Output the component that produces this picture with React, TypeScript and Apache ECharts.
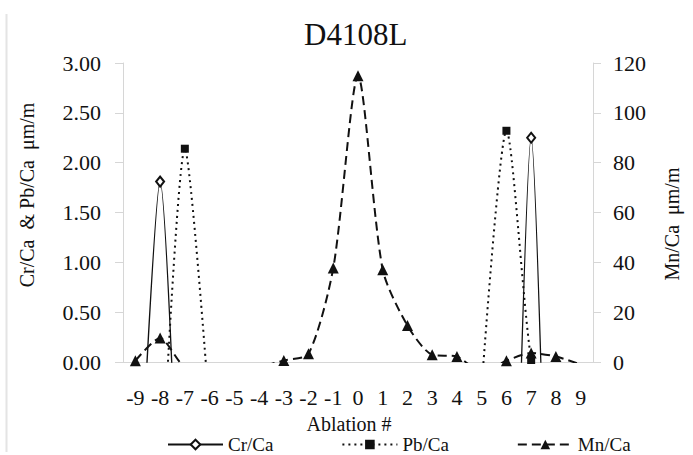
import React, { useEffect, useRef } from "react";
import * as echarts from "echarts";

const categories = ["-9", "-8", "-7", "-6", "-5", "-4", "-3", "-2", "-1", "0", "1", "2", "3", "4", "5", "6", "7", "8", "9"];
// values below zero fall under the axis minimum and are clipped, as in the reference
const crCa = [-2.3, 1.81, -3.4, null, null, null, null, null, null, null, null, null, null, null, null, -5.8, 2.25, -5.8, null];
const pbCa = [null, -1.5, 2.14, -0.5, null, null, null, null, null, null, null, null, null, null, -0.25, 2.32, 0.02, -1, null];
const mnCa = [0.5, 9.6, -2, -3, -3, -2, 0.6, 3.3, 37.7, 114.9, 37, 14.6, 2.9, 2.2, -4, 0.5, 3.6, 2.2, -1];
const leftTicks = { min: 0, max: 3, interval: 0.5 };
const rightTicks = { min: 0, max: 120, interval: 20 };

const FONT = "Liberation Serif";
const INK = "#111";
const AXIS = "#d6d6d6";

export default function App() {
  const ref = useRef<HTMLDivElement>(null);
  useEffect(() => {
    if (!ref.current) return;
    const chart = echarts.init(ref.current, null, { renderer: "svg" });
    chart.setOption({
      animation: false,
      backgroundColor: "#fff",
      textStyle: { fontFamily: FONT },
      title: {
        text: "D4108L",
        left: 299,
        top: 14,
        textStyle: { fontFamily: FONT, fontSize: 31, fontWeight: "normal", color: INK },
      },
      grid: { left: 123, right: 100, top: 63, bottom: 93, containLabel: false },
      legend: {
        left: 167,
        top: 435,
        padding: 0,
        itemWidth: 55,
        itemHeight: 12,
        itemGap: 68,
        textStyle: { fontFamily: FONT, fontSize: 19, color: INK },
        data: ["Cr/Ca", "Pb/Ca", "Mn/Ca"],
      },
      xAxis: {
        type: "category",
        data: categories,
        boundaryGap: true,
        axisLine: { lineStyle: { color: AXIS } },
        axisTick: { length: 6, lineStyle: { color: AXIS } },
        axisLabel: { fontFamily: FONT, fontSize: 22, color: INK, margin: 24, interval: 0 },
        name: "Ablation #",
        nameLocation: "middle",
        nameGap: 52,
        nameTextStyle: { fontFamily: FONT, fontSize: 20, color: INK, padding: [0, 18, 0, 0] },
        splitLine: { show: false },
      },
      yAxis: [
        {
          type: "value",
          ...leftTicks,
          position: "left",
          axisLine: { show: true, lineStyle: { color: AXIS } },
          axisTick: { show: true, length: 8, lineStyle: { color: AXIS } },
          axisLabel: {
            fontFamily: FONT,
            fontSize: 22,
            color: INK,
            margin: 22,
            formatter: (v: number) => v.toFixed(2),
          },
          splitLine: { show: false },
        },
        {
          type: "value",
          ...rightTicks,
          position: "right",
          axisLine: { show: true, lineStyle: { color: AXIS } },
          axisTick: { show: true, length: 8, lineStyle: { color: AXIS } },
          axisLabel: { fontFamily: FONT, fontSize: 22, color: INK, margin: 20 },
          splitLine: { show: false },
        },
      ],
      graphic: [
        {
          type: "line",
          shape: { x1: 6.5, y1: 14, x2: 6.5, y2: 452 },
          style: { stroke: "#e4e4e4", lineWidth: 2 },
        },
        {
          type: "text",
          x: 27,
          y: 195,
          rotation: Math.PI / 2,
          style: {
            text: "Cr/Ca  & Pb/Ca  μm/m",
            fontFamily: FONT,
            fontSize: 20,
            fill: INK,
            align: "center",
            verticalAlign: "middle",
          },
        },
        {
          type: "text",
          x: 672,
          y: 224,
          rotation: Math.PI / 2,
          style: {
            text: "Mn/Ca  μm/m",
            fontFamily: FONT,
            fontSize: 20,
            fill: INK,
            align: "center",
            verticalAlign: "middle",
          },
        },
      ],
      series: [
        {
          name: "Cr/Ca",
          type: "line",
          yAxisIndex: 0,
          data: crCa,
          smooth: 0.25,
          clip: true,
          symbol: "emptyDiamond",
          symbolSize: [8, 10],
          showAllSymbol: true,
          itemStyle: { color: INK, borderWidth: 1 },
          lineStyle: { color: INK, width: 1.4, type: "solid" },
        },
        {
          name: "Pb/Ca",
          type: "line",
          yAxisIndex: 0,
          data: pbCa,
          smooth: 0.25,
          clip: true,
          symbol: "rect",
          symbolSize: 8,
          showAllSymbol: true,
          itemStyle: { color: INK },
          lineStyle: { color: INK, width: 2, type: [2, 4] },
        },
        {
          name: "Mn/Ca",
          type: "line",
          yAxisIndex: 1,
          data: mnCa,
          smooth: 0.25,
          clip: true,
          symbol: "triangle",
          symbolSize: 11,
          showAllSymbol: true,
          itemStyle: { color: INK },
          lineStyle: { color: INK, width: 2, type: [9, 5] },
        },
      ],
    });
    return () => chart.dispose();
  }, []);
  return (
    <div
      ref={ref}
      style={{ position: "fixed", left: 0, top: 0, width: 693, height: 455, background: "#fff" }}
    />
  );
}
